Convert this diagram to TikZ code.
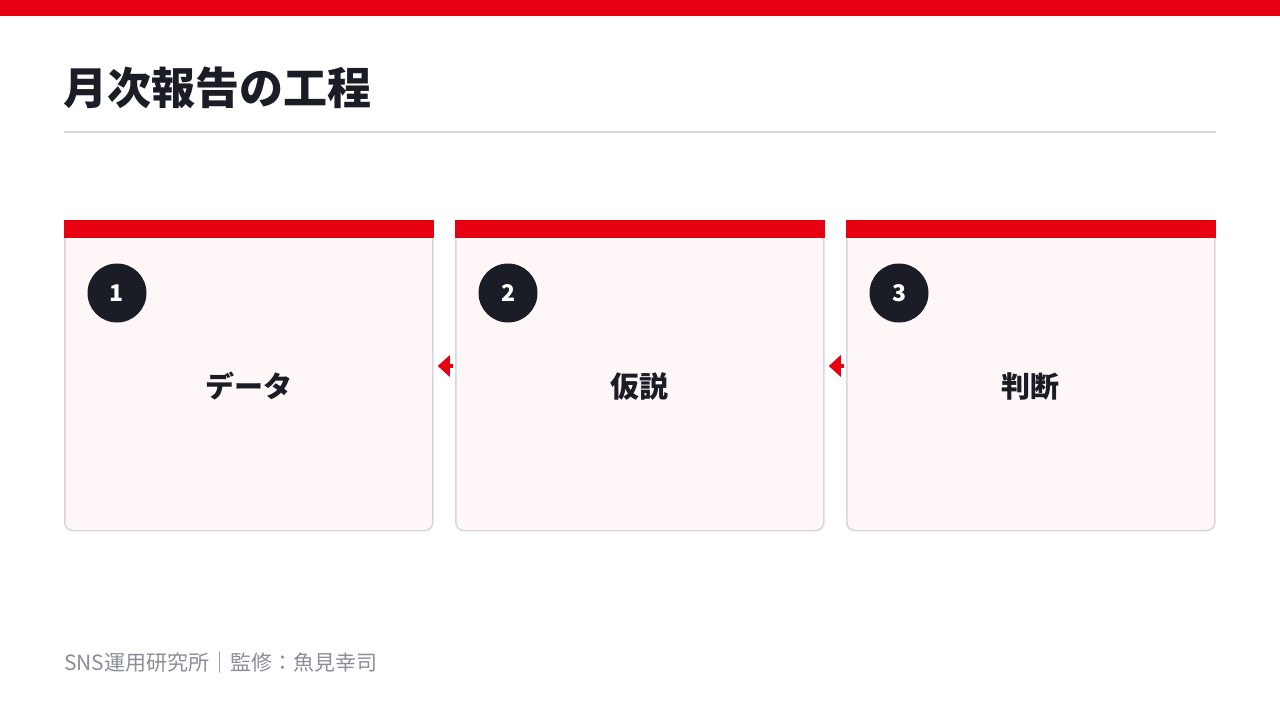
\documentclass[tikz,border=0pt]{standalone}
\usepackage{fontspec}
\usepackage{tikz}
\usepackage{xcolor}
\usetikzlibrary{arrows.meta}
\setmainfont{Noto Sans CJK JP}
\definecolor{brand}{HTML}{E60012}
\definecolor{ink}{HTML}{1A1D26}
\definecolor{cardfill}{HTML}{FFF6F7}
\definecolor{cardline}{HTML}{D6D6DE}
\definecolor{foot}{HTML}{8A8E99}

\begin{document}
\begin{tikzpicture}[x=1pt,y=-1pt,
  card/.style={draw=cardline,fill=cardfill,line width=1.5pt,rounded corners=8pt,
    minimum width=368pt,minimum height=310pt,inner sep=0pt,outer sep=0pt},
  badge/.style={circle,fill=ink,minimum size=59pt,inner sep=0pt,text=white,
    font=\fontsize{23}{23}\selectfont\bfseries},
  label/.style={text=ink,font=\fontsize{29}{29}\selectfont\bfseries},
  flow/.style={brand,line width=4pt,-{Triangle[length=12pt,width=21pt]}}]
\useasboundingbox (0,0) rectangle (1280,720);
\fill[brand] (0,0) rectangle (1280,16);
\node[anchor=base west,inner sep=0pt,text=ink,font=\fontsize{44}{44}\selectfont\bfseries] (title) at (63,104) {月次報告の工程};
\draw[cardline,line width=2pt] (64,132) -- (1216,132);

\foreach \i/\x/\t in {1/64/データ,2/455/仮説,3/846/判断}{
  \node[card] (c\i) at (\x+184.75,375.5) {};
  \fill[brand] ([xshift=-0.75pt,yshift=0.75pt]c\i.north west) rectangle ([xshift=0.75pt,yshift=-17pt]c\i.north east);
  \node[badge] (n\i) at (\x+53,293) {\i};
  \node[label] (t\i) at ([yshift=-11pt]c\i.center) {\t};
}
\foreach \a/\b in {c2/c1,c3/c2}
  \draw[flow] ([xshift=-3pt,yshift=9.5pt]\a.west) -- ([xshift=5pt,yshift=9.5pt]\b.east);

\node[anchor=base west,inner sep=0pt,text=foot,font=\fontsize{21}{21}\selectfont] (foot) at (64,670) {SNS運用研究所｜監修：魚見幸司};
\end{tikzpicture}
\end{document}
